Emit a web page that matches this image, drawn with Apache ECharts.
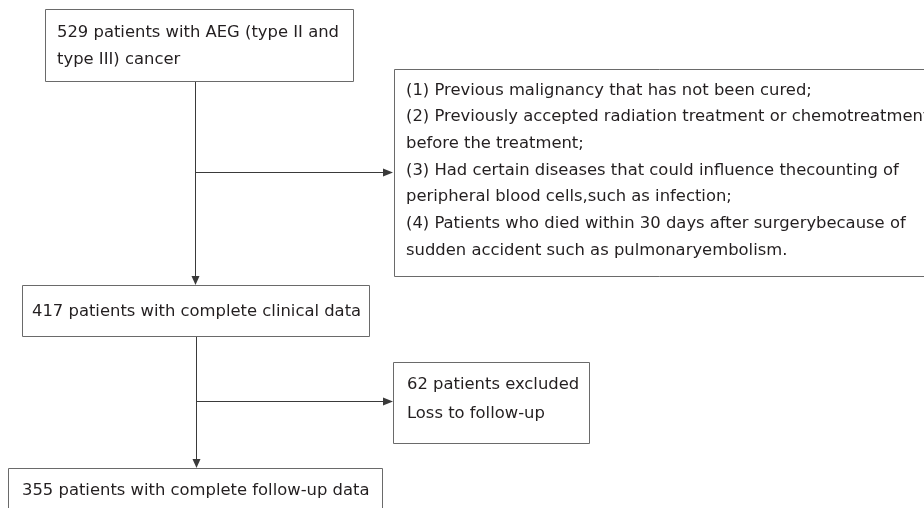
<!DOCTYPE html>
<html>
<head>
<meta charset="utf-8">
<script src="https://cdn.jsdelivr.net/npm/echarts@6/dist/echarts.min.js"></script>
<style>
  html, body { margin: 0; padding: 0; background: #fff; }
  #main { width: 924px; height: 508px; }
</style>
</head>
<body>
<div id="main"></div>
<script>
// flowchart content
var counts = [529, 417, 62, 355];
var startLines = [counts[0] + ' patients with AEG (type II and', 'type III) cancer'];
var clinicalLines = [counts[1] + ' patients with complete clinical data'];
var finalLines = [counts[3] + ' patients with complete follow-up data'];
var criteriaLines = [
  '(1) Previous malignancy that has not been cured;',
  '(2) Previously accepted radiation treatment or chemotreatment',
  'before the treatment;',
  '(3) Had certain diseases that could influence thecounting of',
  'peripheral blood cells,such as infection;',
  '(4) Patients who died within 30 days after surgerybecause of',
  'sudden accident such as pulmonaryembolism.'
];
var lossLines = [counts[2] + ' patients excluded', 'Loss to follow-up'];

var FONT = '"DejaVu Sans", "Noto Sans", sans-serif';
var TEXT_COLOR = '#231f20';
var BORDER = '#6a6a6a';
var LINE = '#3a3a3a';

function box(x, y, w, h, lines, tx, ty, lh) {
  return {
    type: 'group',
    children: [
      {
        type: 'rect',
        shape: { x: x + 0.5, y: y + 0.5, width: w, height: h },
        style: { fill: '#fff', stroke: BORDER, lineWidth: 1 }
      },
      {
        type: 'text',
        x: tx,
        y: ty,
        style: {
          text: lines.join('\n'),
          font: '16.4px ' + FONT,
          fill: TEXT_COLOR,
          lineHeight: lh,
          textVerticalAlign: 'top'
        }
      }
    ]
  };
}

function arrowDown(x, y1, y2) {
  return [
    { type: 'line', shape: { x1: x + 0.5, y1: y1, x2: x + 0.5, y2: y2 - 6 }, style: { stroke: LINE, lineWidth: 1 } },
    { type: 'polygon', shape: { points: [[x - 3.5, y2 - 9], [x + 4.5, y2 - 9], [x + 0.5, y2]] }, style: { fill: LINE } }
  ];
}

function arrowRight(y, x1, x2) {
  return [
    { type: 'line', shape: { x1: x1, y1: y + 0.5, x2: x2 - 6, y2: y + 0.5 }, style: { stroke: LINE, lineWidth: 1 } },
    { type: 'polygon', shape: { points: [[x2 - 10, y - 3.5], [x2 - 10, y + 4.5], [x2, y + 0.5]] }, style: { fill: LINE } }
  ];
}

var chart = echarts.init(document.getElementById('main'));
var elements = [];
elements = elements.concat(arrowDown(195, 81, 285));
elements = elements.concat(arrowRight(172, 196, 393));
elements = elements.concat(arrowDown(196, 336, 468));
elements = elements.concat(arrowRight(401, 197, 393));
elements.push(box(45, 9, 308, 72, startLines, 57, 19, 27));
elements.push(box(22, 285, 347, 51, clinicalLines, 32, 298, 27));
elements.push(box(8, 468, 374, 60, finalLines, 22, 477, 27));
elements.push(box(394, 69, 600, 207, criteriaLines, 406, 77, 26.7));
elements.push(box(393, 362, 196, 81, lossLines, 407, 370, 29));

chart.setOption({
  animation: false,
  graphic: { elements: elements }
});
</script>
</body>
</html>
